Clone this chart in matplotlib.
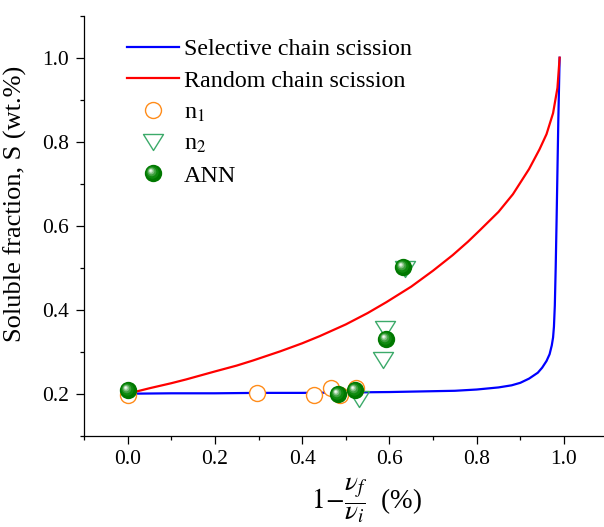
import numpy as np
import matplotlib
matplotlib.use("Agg")
import matplotlib.pyplot as plt
from matplotlib.path import Path
from matplotlib.lines import Line2D
from matplotlib.legend_handler import HandlerTuple
from matplotlib.ticker import MultipleLocator

plt.rcParams['font.family'] = ['Liberation Serif', 'DejaVu Serif']
plt.rcParams['mathtext.fontset'] = 'stix'

# ---- data ----
sel_x = [0.0, 0.1, 0.2, 0.3, 0.4, 0.5, 0.6, 0.7, 0.75, 0.8, 0.85, 0.88, 0.9, 0.92, 0.94, 0.95, 0.96, 0.967, 0.972,
         0.975, 0.977, 0.979, 0.981, 0.983, 0.985, 0.987, 0.989, 0.99]
sel_y = [0.200, 0.201, 0.201, 0.202, 0.202, 0.203, 0.204, 0.206, 0.207, 0.210, 0.215, 0.220, 0.226, 0.236, 0.250,
         0.262, 0.278, 0.294, 0.315, 0.334, 0.36, 0.41, 0.50, 0.61, 0.73, 0.85, 0.95, 1.0]

rnd_x = [0.0, 0.05, 0.1, 0.134, 0.2, 0.25, 0.287, 0.35, 0.4, 0.44, 0.5, 0.55, 0.593, 0.65, 0.7, 0.745, 0.78, 0.807,
         0.85, 0.883, 0.92, 0.944, 0.96, 0.975, 0.985, 0.99]
rnd_y = [0.200, 0.213, 0.225, 0.234, 0.253, 0.267, 0.279, 0.301, 0.320, 0.337, 0.365, 0.392, 0.418, 0.455, 0.493,
         0.530, 0.562, 0.589, 0.633, 0.675, 0.735, 0.782, 0.818, 0.868, 0.928, 1.0]

n1_x = [0.0, 0.296, 0.428, 0.466, 0.486, 0.524]
n1_y = [0.197, 0.202, 0.198, 0.213, 0.198, 0.213]

n2_x = [0.531, 0.585, 0.590, 0.636]
n2_y = [0.188, 0.280, 0.355, 0.497]

ann_x = [0.0, 0.482, 0.522, 0.591, 0.632]
ann_y = [0.209, 0.200, 0.209, 0.330, 0.501]

labels = ['Selective chain scission', 'Random chain scission', r'n$_1$', r'n$_2$', 'ANN']

# ---- figure ----
fig = plt.figure(figsize=(6.04, 5.27), dpi=100)
ax = fig.add_axes([0.139, 0.1732, 0.867, 0.797])

ax.plot(sel_x, sel_y, color='#0000FF', lw=1.6, zorder=2, solid_joinstyle='round')
ax.plot(rnd_x, rnd_y, color='#FF0000', lw=1.6, zorder=2, solid_joinstyle='round')

ax.plot(n1_x, n1_y, ls='none', marker='o', ms=11.5, mfc='white', mec='#FF8C1A', mew=1.0, zorder=3)

tri = Path([(-1, 0.8), (1, 0.8), (0, -0.8), (-1, 0.8)],
           [Path.MOVETO, Path.LINETO, Path.LINETO, Path.CLOSEPOLY])
ax.plot(n2_x, n2_y, ls='none', marker=tri, ms=14.4, mfc='none', mec='#3CAA6A', mew=1.0, zorder=4)


def sphere_path(cx, cy, r):
    c = Path.circle((cx, cy), r)
    verts = np.vstack([c.vertices, [[1, 1], [-1, -1]]])
    codes = np.concatenate([c.codes, [Path.MOVETO, Path.MOVETO]])
    return Path(verts, codes)


layers = [
    (0.0, 0.0, 1.0, '#007800'),
    (-0.12, 0.12, 0.72, '#0f8a0f'),
    (-0.2, 0.2, 0.52, '#3d9f3d'),
    (-0.26, 0.26, 0.36, '#7fbf7f'),
    (-0.3, 0.3, 0.22, '#c4e3c4'),
    (-0.32, 0.32, 0.11, '#f4fbf4'),
]


def ann_layers(target, xs, ys):
    hs = []
    for cx, cy, r, col in layers:
        h, = target(xs, ys, ls='none', marker=sphere_path(cx, cy, r), ms=12.5,
                    mfc=col, mec='none', mew=0, zorder=5)
        hs.append(h)
    return hs


ann_handles = ann_layers(ax.plot, ann_x, ann_y)

ax.set_xlim(-0.1, 1.1)
ax.set_ylim(0.1, 1.1)
ax.xaxis.set_major_locator(MultipleLocator(0.2))
ax.xaxis.set_minor_locator(MultipleLocator(0.1))
ax.yaxis.set_major_locator(MultipleLocator(0.2))
ax.yaxis.set_minor_locator(MultipleLocator(0.1))
ax.tick_params(which='major', direction='out', length=5.5, width=0.9, labelsize=15.5, pad=5)
ax.tick_params(which='minor', direction='out', length=3, width=0.9)
for s in ['top', 'right']:
    ax.spines[s].set_visible(False)
for s in ['left', 'bottom']:
    ax.spines[s].set_linewidth(0.9)

ax.set_ylabel('Soluble fraction, S (wt.%)', fontsize=19)
ax.yaxis.set_label_coords(-0.109, 0.552)
ax.set_xlabel(r'$1\!-\!\dfrac{\nu_f}{\nu_i}$  (%)', fontsize=19.5)
ax.xaxis.set_label_coords(0.54, -0.095)

h_sel = Line2D([], [], color='#0000FF', lw=1.6)
h_rnd = Line2D([], [], color='#FF0000', lw=1.6)
h_n1 = Line2D([], [], ls='none', marker='o', ms=11.5, mfc='white', mec='#FF8C1A', mew=1.0)
h_n2 = Line2D([], [], ls='none', marker=tri, ms=14.4, mfc='none', mec='#3CAA6A', mew=1.0)
leg = ax.legend([h_sel, h_rnd, h_n1, h_n2, tuple(ann_handles)], labels,
                handler_map={tuple: HandlerTuple(ndivide=1, pad=0)},
                loc='upper left', bbox_to_anchor=(0.04, 0.997), frameon=False, fontsize=17.3,
                handlelength=2.2, handletextpad=0.2, labelspacing=0.4, numpoints=1)

fig.savefig('out.png', dpi=100)
